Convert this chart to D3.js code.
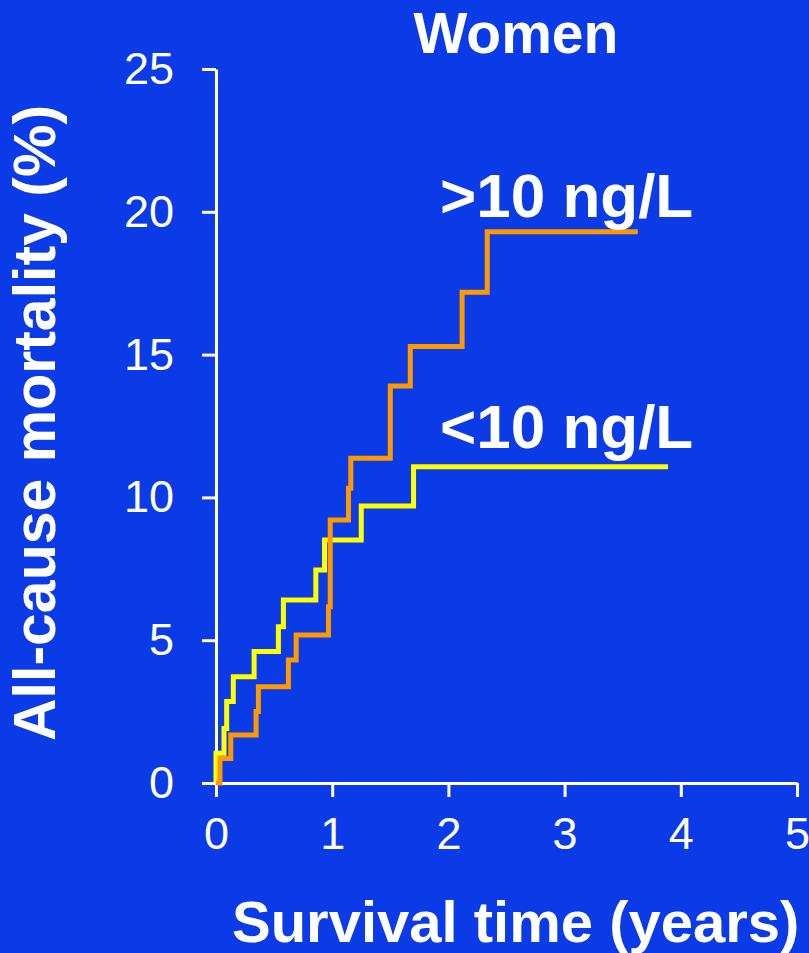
<!DOCTYPE html>
<html>
<head>
<meta charset="utf-8">
<script src="https://cdn.jsdelivr.net/npm/d3@7"></script>
<style>
  html, body { margin: 0; padding: 0; background: #0a3be6; }
  svg text { font-family: "Liberation Sans", Arial, sans-serif; fill: #fff; }
</style>
</head>
<body>
<div id="chart"></div>
<script>
// Kaplan-Meier style step curves
// times (years) at which each curve steps up, and the new mortality (%)
var lowTimes = [0, 0.069, 0.092, 0.149, 0.328, 0.537, 0.58, 0.859, 0.934, 1.25, 1.70]
var lowValues = [1.04, 1.91, 2.85, 3.72, 4.60, 5.47, 6.41, 7.46, 8.51, 9.70, 11.07]
var lowEnd = 3.89

var highTimes = [0.034, 0.127, 0.345, 0.365, 0.623, 0.69, 0.968, 0.983, 1.14, 1.16, 1.50, 1.672, 2.118, 2.334]
var highValues = [0.86, 1.68, 2.50, 3.37, 4.31, 5.18, 6.17, 9.21, 10.32, 11.37, 13.90, 15.28, 17.18, 19.30]
var highEnd = 3.63

var xTicks = [0, 1, 2, 3, 4, 5]
var yTicks = [0, 5, 10, 15, 20, 25]

var width = 809
var height = 953

var svg = d3.select("#chart")
    .append("svg")
    .attr("width", width)
    .attr("height", height)

svg.append("rect")
    .attr("width", width)
    .attr("height", height)
    .attr("fill", "#0a3be6")

var x = d3.scaleLinear().domain([0, 5]).range([216, 797])
var y = d3.scaleLinear().domain([0, 25]).range([783, 69])

// turn event lists into step points, starting at 0 and ending at last follow-up
function stepPoints(times, values, end) {
    var pts = [[0, 0]]
    times.forEach(function(t, i) { pts.push([t, values[i]]) })
    pts.push([end, values[values.length - 1]])
    return pts
}

var line = d3.line()
    .x(d => x(d[0]))
    .y(d => y(d[1]))
    .curve(d3.curveStepAfter)

// axes
var yAxis = svg.append("g")
    .attr("transform", "translate(216,0)")
    .call(d3.axisLeft(y).tickValues(yTicks).tickFormat(d3.format("d"))
        .tickSize(14).tickSizeOuter(0).tickPadding(28))

var xAxis = svg.append("g")
    .attr("transform", "translate(0,783)")
    .call(d3.axisBottom(x).tickValues(xTicks).tickFormat(d3.format("d"))
        .tickSize(14).tickSizeOuter(0).tickPadding(20))

;[yAxis, xAxis].forEach(function(g) {
    g.selectAll("path, line")
        .attr("stroke", "#fff")
        .attr("stroke-width", 3)
    g.selectAll("text")
        .attr("fill", "#fff")
        .style("font-size", "45px")
        .style("font-family", "'Liberation Sans', Arial, sans-serif")
})

// curves
svg.append("path")
    .datum(stepPoints(lowTimes, lowValues, lowEnd))
    .attr("d", line)
    .attr("fill", "none")
    .attr("stroke", "#ffff00")
    .attr("stroke-width", 5)

svg.append("path")
    .datum(stepPoints(highTimes, highValues, highEnd))
    .attr("d", line)
    .attr("fill", "none")
    .attr("stroke", "#ff9900")
    .attr("stroke-width", 5)

// texts
svg.append("text")
    .attr("x", 516)
    .attr("y", 53)
    .attr("text-anchor", "middle")
    .style("font-size", "57px")
    .style("font-weight", "bold")
    .text("Women")

svg.append("text")
    .attr("x", 440)
    .attr("y", 217)
    .style("font-size", "62px")
    .style("font-weight", "bold")
    .text(">10 ng/L")

svg.append("text")
    .attr("x", 440)
    .attr("y", 448)
    .style("font-size", "62px")
    .style("font-weight", "bold")
    .text("<10 ng/L")

svg.append("text")
    .attr("transform", "translate(55,741) rotate(-90)")
    .style("font-size", "59px")
    .style("font-weight", "bold")
    .text("All-cause mortality (%)")

svg.append("text")
    .attr("x", 232)
    .attr("y", 942)
    .style("font-size", "58px")
    .style("font-weight", "bold")
    .text("Survival time (years)")
</script>
</body>
</html>
